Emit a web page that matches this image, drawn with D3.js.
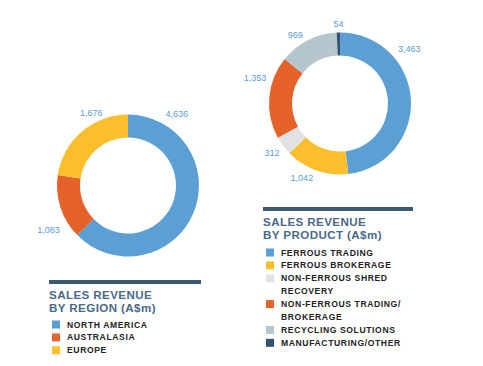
<!DOCTYPE html>
<html>
<head>
<meta charset="utf-8">
<script src="https://cdn.jsdelivr.net/npm/d3@7"></script>
<style>
body { margin:0; background:#fff; }
svg { display:block; font-family:"Liberation Sans", Arial, sans-serif; }
.vlabel { fill:#5b9bd5; font-size:9px; }
.ltitle { fill:#4a6a88; font-size:11.6px; font-weight:bold; letter-spacing:0.4px; }
.litem { fill:#222; font-size:8.6px; font-weight:bold; letter-spacing:0.6px; }
</style>
</head>
<body>
<div id="chart"></div>
<script>
// sales revenue by region (A$m)
var regions = ['NORTH AMERICA', 'AUSTRALASIA', 'EUROPE'];
var regionValues = [4636, 1083, 1676];
var regionColors = ['#5b9fd4', '#e5622a', '#fbbf2d'];

// sales revenue by product (A$m)
var products = ['FERROUS TRADING', 'FERROUS BROKERAGE', 'NON-FERROUS SHRED|RECOVERY',
	'NON-FERROUS TRADING/|BROKERAGE', 'RECYCLING SOLUTIONS', 'MANUFACTURING/OTHER'];
var productValues = [3463, 1042, 312, 1353, 969, 54];
var productColors = ['#5b9fd4', '#fbbf2d', '#e2e2e2', '#e5622a', '#b3c7cd', '#35536e'];

var width = 483, height = 366;

var svg = d3.select('#chart').append('svg')
	.attr('width', width)
	.attr('height', height);

var pie = d3.pie().sort(null);
var arc = d3.arc().innerRadius(48).outerRadius(71);

// label placement (degrees clockwise from top, distance from centre)
var regionLabelPos = [[34, 87], [241, 91], [333, 81]];
var productLabelPos = [[52, 88], [207, 84], [234, 84], [287, 89], [327, 82], [359, 80]];

function donut(cx, cy, values, colors, labelPos) {
	var g = svg.append('g').attr('transform', 'translate(' + cx + ',' + cy + ')');

	g.selectAll('path').data(pie(values))
	  .enter()
	  .append('path')
	  .attr('d', arc)
	  .attr('fill', function(d, i) { return colors[i]; });

	g.selectAll('text').data(values)
	  .enter()
	  .append('text')
	  .attr('class', 'vlabel')
	  .attr('text-anchor', 'middle')
	  .attr('dy', '0.35em')
	  .attr('x', function(d, i) { return labelPos[i][1] * Math.sin(labelPos[i][0] * Math.PI / 180); })
	  .attr('y', function(d, i) { return -labelPos[i][1] * Math.cos(labelPos[i][0] * Math.PI / 180); })
	  .text(function(d) { return d3.format(',')(d); });
};

function legend(x, y, w, itemTop, title, names, colors) {
	var g = svg.append('g').attr('transform', 'translate(' + x + ',' + y + ')');

	g.append('rect')
	  .attr('x', 0).attr('y', 0)
	  .attr('width', w).attr('height', 4)
	  .attr('fill', '#3b5a73');

	g.selectAll('text.ltitle').data(title)
	  .enter()
	  .append('text')
	  .attr('class', 'ltitle')
	  .attr('x', 0)
	  .attr('y', function(d, i) { return 19 + i * 13; })
	  .text(function(d) { return d; });

	var row = 0;
	names.forEach(function(name, i) {
		var lines = name.split('|');
		var yy = itemTop + row * 12.9;
		g.append('rect')
		  .attr('x', 3).attr('y', yy - 4)
		  .attr('width', 8).attr('height', 8)
		  .attr('fill', colors[i]);
		lines.forEach(function(line, j) {
			g.append('text')
			  .attr('class', 'litem')
			  .attr('x', 18)
			  .attr('y', yy + j * 12.9)
			  .attr('dy', '0.35em')
			  .text(line);
		});
		row += lines.length;
	});
};

donut(128, 185.5, regionValues, regionColors, regionLabelPos);
donut(340, 103.5, productValues, productColors, productLabelPos);

legend(49, 280, 152, 44.5, ['SALES REVENUE', 'BY REGION (A$m)'], regions, regionColors);
legend(263, 207, 150, 45.5, ['SALES REVENUE', 'BY PRODUCT (A$m)'], products, productColors);
</script>
</body>
</html>
